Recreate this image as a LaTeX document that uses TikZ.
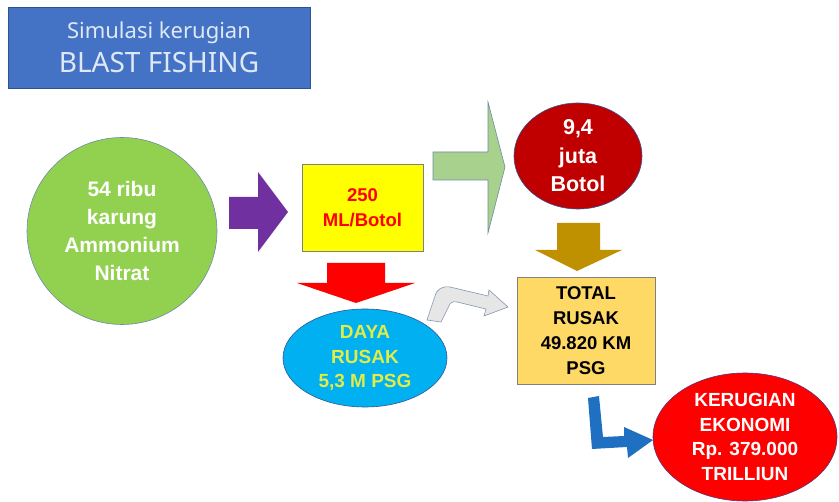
\documentclass[tikz,border=0pt]{standalone}
\usepackage{fontspec}
\setmainfont{Liberation Sans}
\newfontfamily\titlefont{Noto Sans}
\usetikzlibrary{shapes.geometric}
\definecolor{titleblue}{RGB}{68,114,196}
\definecolor{titleborder}{RGB}{47,82,143}
\definecolor{titletext}{RGB}{222,232,246}
\definecolor{lgreen}{RGB}{146,208,80}
\definecolor{grayblue}{RGB}{110,140,165}
\definecolor{purp}{RGB}{112,48,160}
\definecolor{yel}{RGB}{255,255,0}
\definecolor{boxgray}{RGB}{128,128,128}
\definecolor{pgreen}{RGB}{169,209,142}
\definecolor{dred}{RGB}{192,0,0}
\definecolor{gold}{RGB}{191,144,0}
\definecolor{lorange}{RGB}{255,217,102}
\definecolor{bred}{RGB}{255,0,0}
\definecolor{sky}{RGB}{0,176,240}
\definecolor{skyborder}{RGB}{47,85,151}
\definecolor{ygreen}{RGB}{225,236,70}
\definecolor{lgray}{RGB}{231,230,230}
\definecolor{lgrayborder}{RGB}{132,151,176}
\definecolor{lblue}{RGB}{31,112,193}
\definecolor{redborder}{RGB}{90,50,120}
\tikzset{
  bodytext/.style n args={2}{align=center,font=\bfseries\fontsize{#1}{#2}\selectfont},
  blob/.style={ellipse,inner sep=0pt,line width=0.6pt},
  boxnode/.style={rectangle,inner sep=0pt,line width=0.8pt},
  blockarrow/.style={line width=0.6pt},
}
\begin{document}
\begin{tikzpicture}[x=1pt,y=-1pt]
\useasboundingbox[fill=white] (0,0) rectangle (839,502);
% title
\node[boxnode,draw=titleborder,fill=titleblue,minimum width=302pt,minimum height=81pt,
      text=titletext,align=center,font=\titlefont] (title) at (159,47.5)
  {{\fontsize{22}{26}\selectfont Simulasi kerugian}\\[7pt]{\fontsize{28}{30}\selectfont BLAST FISHING}};
% green circle
\node[blob,draw=grayblue,fill=lgreen,minimum width=190pt,minimum height=187pt,
      text=white,bodytext={21}{28}] (ammo) at (122,231)
  {54 ribu\\karung\\Ammonium\\Nitrat};
% purple arrow
\fill[purp] (229,197) -- (258,197) -- (258,172) -- (288,212) -- (258,252) -- (258,229) -- (229,229) -- cycle;
% yellow box
\node[boxnode,draw=boxgray,fill=yel,minimum width=121pt,minimum height=87pt,
      text=bred,bodytext={18.5}{25}] (ml) at (362.5,208)
  {250\\ML/Botol};
% light green arrow
\filldraw[fill=pgreen,draw=grayblue,blockarrow] (433,152) -- (488,152) -- (488,102) -- (505,167) -- (488,233) -- (488,180) -- (433,180) -- cycle;
% dark red ellipse
\node[blob,draw=skyborder,fill=dred,minimum width=128pt,minimum height=106pt,
      text=white,bodytext={21.5}{28.5}] (botol) at (578,156)
  {9,4\\juta\\Botol};
% gold arrow
\fill[gold] (557,223) -- (600,223) -- (600,250) -- (622,250) -- (577,271) -- (535,250) -- (557,250) -- cycle;
% total box
\node[boxnode,draw=boxgray,fill=lorange,minimum width=138pt,minimum height=107pt,
      text=black,bodytext={18.5}{25}] (total) at (586,330.5)
  {TOTAL\\RUSAK\\49.820 KM\\PSG};
% red arrow
\fill[bred] (327,263) -- (385,263) -- (385,283) -- (415,283) -- (356,303) -- (297,283) -- (327,283) -- cycle;
% blue ellipse
\node[blob,draw=skyborder,fill=sky,minimum width=164pt,minimum height=98pt,
      text=ygreen,bodytext={19}{24.5}] (daya) at (365,358)
  {DAYA\\RUSAK\\5,3 M PSG};
% gray bent arrow
\filldraw[fill=lgray,draw=lgrayborder,blockarrow] (427,320) -- (435,296)
  .. controls (437,289) and (442,286) .. (450,287) -- (488,296) -- (489,290) -- (508,307)
  -- (484,316) -- (486,309) -- (457,302) .. controls (452,301) and (450,303) .. (449,306)
  -- (441,322) -- cycle;
% blue L arrow
\fill[lblue] (588,398) -- (599,396) -- (603,437) -- (624,436) -- (624,427) -- (653,440)
  -- (628,458) -- (627,447) -- (592,449) -- cycle;
% red ellipse
\node[blob,draw=redborder,fill=bred,minimum width=184pt,minimum height=128pt,
      text=white,bodytext={19}{24.5}] (rugi) at (745,437)
  {KERUGIAN\\EKONOMI\\Rp. 379.000\\TRILLIUN};
\end{tikzpicture}
\end{document}
